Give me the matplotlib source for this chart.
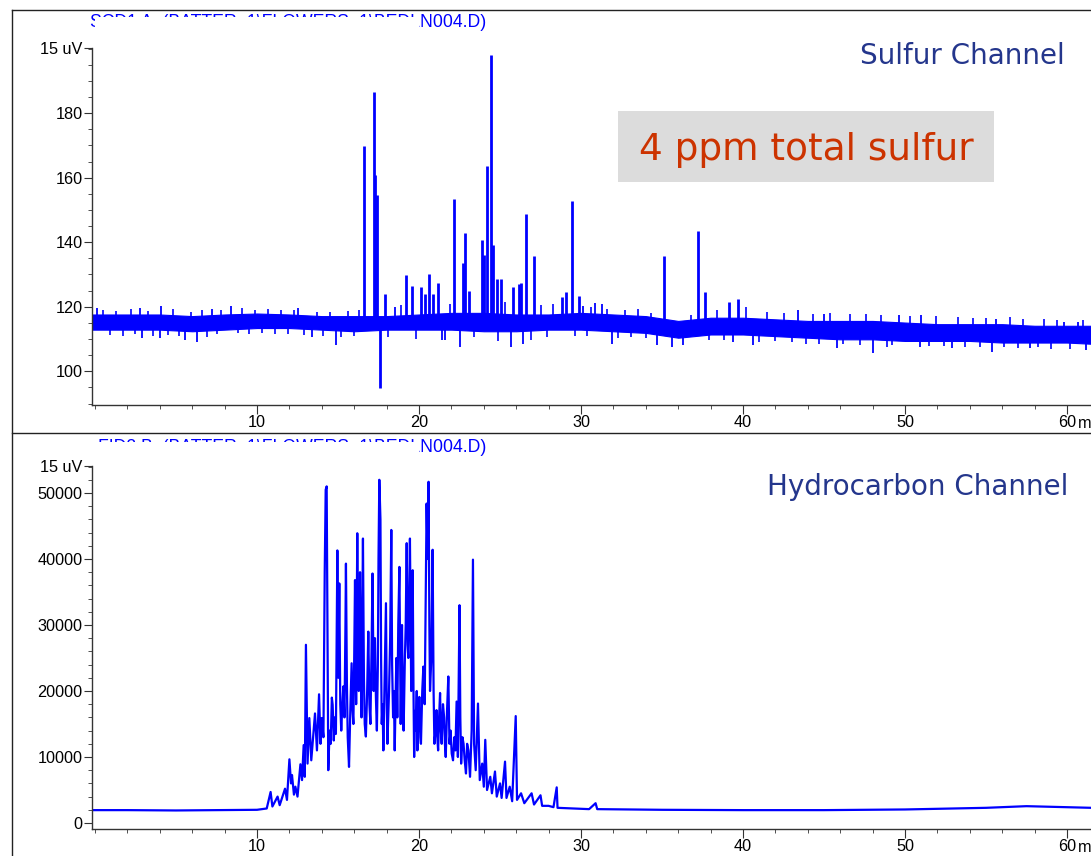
import numpy as np
import matplotlib.pyplot as plt
import matplotlib.transforms as mtransforms
from matplotlib.patches import Rectangle
from matplotlib.lines import Line2D
from matplotlib.ticker import MultipleLocator

plt.rcParams['font.family'] = ['Liberation Sans', 'DejaVu Sans']

# ---- sulfur channel ----
# solid core of the baseline noise, every 2 min
band_t = [-0.2, 2, 4, 6, 8, 10, 12, 14, 16, 18, 20, 22, 24, 26, 28, 30,
          32, 34, 36, 38, 40, 42, 44, 46, 48, 50, 52, 54, 56, 58, 60, 62]
band_hi = [117.6, 117.6, 117.6, 117.1, 117.6, 117.9, 117.6, 117.1, 117.1, 117.1,
           117.6, 118.1, 118.1, 117.6, 117.6, 118.1, 117.6, 117.1, 115.6, 116.6,
           116.6, 116.1, 115.6, 115.6, 115.6, 115.1, 114.6, 114.6, 114.6, 114.1,
           114.1, 114.1]
band_lo = [112.9, 112.9, 112.9, 112.4, 112.9, 113.4, 113.4, 112.9, 112.4, 112.9,
           112.9, 112.9, 112.4, 112.4, 112.9, 112.9, 112.4, 111.9, 110.4, 111.4,
           111.4, 110.9, 110.4, 109.9, 109.9, 109.4, 109.4, 109.4, 108.9, 108.9,
           108.9, 108.4]

# sulfur peaks (retention time, apex)
s_peak_t = [16.63, 17.20, 17.30, 17.39, 17.59, 17.90, 19.20, 19.55, 20.10, 20.38,
            20.60, 20.84, 21.15, 22.16, 22.74, 22.82, 23.10, 23.89, 23.99, 24.18,
            24.44, 24.55, 24.80, 25.04, 25.82, 26.17, 26.30, 26.58, 27.08, 28.80,
            29.07, 29.42, 29.88, 35.12, 37.22, 37.63, 39.14, 39.70]
s_peak_v = [169.8, 186.6, 160.8, 154.6, 94.8, 124.0, 129.8, 126.5, 126.0, 124.0,
            130.3, 124.0, 127.5, 153.5, 133.6, 143.0, 125.0, 140.6, 136.0, 163.6,
            197.9, 139.0, 128.7, 128.7, 126.0, 127.0, 127.5, 148.9, 135.7, 123.0,
            124.6, 152.8, 123.4, 135.7, 143.4, 124.6, 121.5, 122.5]

# larger noise excursions
s_noise_t = [0.1, 2.8, 2.9, 4.0, 4.1, 5.55, 6.3, 7.2, 8.4, 12.5, 13.4, 14.9,
             18.5, 21.4, 21.6, 22.5, 25.7, 26.4, 30.1, 30.86, 31.3, 31.9, 34.67,
             35.6, 36.3, 39.4, 40.6, 43.4, 45.0, 45.8, 48.05, 49.6, 50.9, 51.0,
             52.9, 55.35, 55.6, 57.7, 59.8, 60.7, 61.2]
s_noise_v = [119.7, 119.7, 110.2, 110.4, 120.2, 109.6, 109.0, 119.4, 120.2, 119.5,
             110.6, 108.0, 120.0, 109.6, 109.6, 107.5, 107.5, 108.6, 120.2, 121.2,
             120.7, 108.6, 108.2, 107.5, 108.2, 109.1, 108.2, 118.9, 117.9, 107.1,
             105.8, 117.4, 107.6, 117.4, 107.1, 106.1, 116.3, 107.3, 115.3, 115.3,
             106.6]

# smaller ripples on the band edges
s_ripple_t = [0.5, 0.9, 1.3, 1.7, 2.2, 2.5, 3.3, 3.6, 4.5, 4.8, 5.2, 5.9, 6.6, 6.9,
              7.5, 7.8, 8.8, 9.1, 9.5, 9.9, 10.3, 10.7, 11.1, 11.5, 11.9, 12.3, 12.9,
              13.7, 14.1, 14.5, 15.2, 15.6, 16.0, 16.3, 18.1, 18.9, 19.8, 21.9, 23.4,
              24.9, 25.3, 26.9, 27.5, 27.9, 28.3, 29.6, 30.4, 30.6, 31.6, 32.3, 32.7,
              33.1, 33.5, 34.0, 34.3, 36.8, 37.9, 38.4, 38.8, 40.2, 41.0, 41.5, 42.0,
              42.5, 43.0, 43.9, 44.3, 44.7, 45.4, 46.2, 46.6, 47.2, 47.6, 48.5, 48.9,
              49.2, 50.3, 51.5, 51.9, 52.4, 53.3, 53.7, 54.2, 54.6, 55.0, 56.1, 56.5,
              57.0, 57.3, 58.2, 58.6, 59.0, 59.4, 60.2, 61.0]
s_ripple_v = [119.0, 111.2, 118.6, 111.0, 119.3, 111.6, 118.8, 110.8, 111.3, 119.2,
              111.0, 118.4, 118.9, 110.5, 111.4, 119.0, 111.8, 119.6, 111.5, 119.1,
              112.0, 119.4, 111.7, 118.9, 111.4, 119.0, 111.2, 118.5, 110.9, 118.3,
              110.7, 118.7, 111.0, 118.9, 110.5, 120.5, 110.0, 121.0, 110.5, 109.5,
              121.5, 109.8, 120.5, 110.6, 121.0, 110.8, 111.0, 120.0, 119.3, 110.4,
              119.0, 110.6, 119.2, 110.3, 118.0, 117.5, 109.6, 119.0, 109.8, 119.8,
              109.0, 118.5, 109.3, 118.2, 109.0, 108.6, 117.8, 108.3, 118.2, 108.4,
              117.6, 108.0, 117.8, 117.4, 107.6, 108.2, 117.0, 107.8, 117.0, 107.9,
              116.8, 107.6, 116.5, 107.4, 116.4, 107.6, 116.7, 107.2, 116.2, 107.4,
              116.3, 106.9, 116.0, 107.0, 116.0]

# ---- hydrocarbon channel (trace through its maxima and minima) ----
hc_t = [-0.2, 2, 5, 8, 10, 10.6, 10.84, 10.95, 11.27, 11.4, 11.73, 11.85, 12.0, 12.1,
        12.16, 12.28, 12.37, 12.5, 12.68, 12.78, 12.88, 12.95, 13.02, 13.12, 13.23,
        13.35, 13.58, 13.7, 13.83, 13.92, 13.99,
        14.10, 14.18, 14.24, 14.30, 14.35, 14.40, 14.48, 14.55, 14.62, 14.67, 14.74,
        14.80, 14.87, 14.96, 15.02, 15.08, 15.14, 15.20, 15.27, 15.33, 15.40, 15.46,
        15.49, 15.55, 15.60, 15.68, 15.76, 15.84, 15.90, 15.95, 16.00, 16.05, 16.12,
        16.19, 16.24, 16.28, 16.36, 16.41, 16.45, 16.54, 16.60, 16.65, 16.72, 16.80,
        16.87, 16.94, 17.00, 17.07, 17.13, 17.20, 17.28, 17.34, 17.40, 17.46, 17.50,
        17.55, 17.62, 17.66, 17.70, 17.75, 17.80, 17.88, 17.96, 18.01, 18.05, 18.10,
        18.15, 18.22, 18.29, 18.34, 18.40, 18.45, 18.50, 18.55, 18.60, 18.66, 18.72,
        18.79, 18.87, 18.95, 19.00, 19.05, 19.12, 19.18, 19.24, 19.30, 19.34, 19.40,
        19.44, 19.52, 19.56, 19.61, 19.66, 19.70, 19.76, 19.80, 19.86, 19.90, 19.96,
        20.02, 20.08, 20.12, 20.20, 20.27, 20.35, 20.42, 20.47, 20.53, 20.59, 20.64,
        20.68, 20.76, 20.84, 20.90, 20.95, 21.02, 21.08, 21.13, 21.18, 21.24, 21.30,
        21.35, 21.40, 21.48, 21.55, 21.60, 21.65, 21.73, 21.81, 21.88, 21.95, 22.02,
        22.10, 22.18, 22.25, 22.32, 22.40, 22.50, 22.55, 22.60, 22.68, 22.75, 22.82,
        22.90, 22.97, 23.05, 23.15, 23.25, 23.33, 23.40,
        23.5, 23.64, 23.75, 23.9, 24.0, 24.09, 24.2, 24.4, 24.5, 24.69, 24.8, 25.0,
        25.1, 25.31, 25.4, 25.6, 25.75, 25.97, 26.05, 26.3, 26.5, 26.95, 27.1, 27.5,
        27.6, 28.0, 28.3, 28.5, 28.55, 29.5, 30.5, 30.9, 31.0, 35, 40, 45, 50, 55,
        57.5, 60, 61.5]
hc_v = [1950, 1950, 1900, 1950, 2000, 2200, 4700, 2500, 4000, 2700, 5200, 3500, 9650,
        6000, 7270, 4300, 5500, 4000, 8900, 6500, 11800, 7000, 27000, 9000, 15900,
        9500, 16600, 11000, 19500, 12000, 15900,
        13000, 38000, 50500, 51000, 30000, 8000, 14000, 12000, 19000, 17900, 12500,
        16000, 13500, 41300, 22000, 36300, 18000, 14000, 18000, 20700, 16000, 30000,
        39300, 21000, 13000, 8500, 17000, 24200, 17000, 15000, 25000, 36800, 18000,
        43900, 26000, 20000, 38000, 22000, 16000, 43100, 22000, 15000, 13100, 20000,
        29000, 18000, 15000, 26000, 37800, 20000, 28000, 19000, 14000, 24000, 40000,
        52000, 46000, 25000, 15000, 18000, 11000, 22000, 33300, 18000, 12000, 16000,
        20000, 28000, 44400, 24000, 16000, 20000, 11000, 18000, 25000, 16000, 30000,
        38800, 15000, 30000, 19000, 14000, 24000, 30000, 42400, 27000, 25000, 35000,
        43100, 20000, 32000, 38300, 20000, 10000, 17000, 14000, 20000, 11000, 16000,
        19100, 13000, 12000, 20000, 23700, 18000, 35000, 48400, 40000, 51700, 30000,
        20000, 25000, 41400, 20000, 12000, 14000, 17100, 13000, 11000, 16000, 19700,
        14000, 12000, 18000, 16000, 12000, 10000, 17000, 22200, 12000, 14000, 10500,
        9500, 13000, 11000, 18400, 10000, 33000, 16000, 9000, 13000, 12000, 9500,
        7500, 12000, 11000, 7000, 14000, 39900, 12000,
        8000, 18100, 6500, 9000, 5500, 12600, 5000, 7000, 4500, 7800, 4000, 6000,
        3800, 9300, 3800, 5500, 3300, 16200, 3500, 4500, 3000, 4500, 2800, 4200,
        2600, 2600, 2400, 5400, 2300, 2200, 2100, 3000, 2100, 2000, 1950, 1950, 2050, 2300,
        2550, 2400, 2300]

W, H = 1091, 856
BLUE = '#0000ff'


def fx(px):
    return px / W


def fy(py):
    return 1 - py / H


def style_axis(ax, top_val, majors, minor_step):
    ax.set_xlim(-0.185, 61.48)
    ax.spines['top'].set_visible(False)
    ax.spines['right'].set_visible(False)
    for s in ('left', 'bottom'):
        ax.spines[s].set_color('#333333')
        ax.spines[s].set_linewidth(1.0)
    ax.set_xticks([10, 20, 30, 40, 50, 60])
    ax.xaxis.set_minor_locator(MultipleLocator(2))
    ax.set_yticks(list(majors) + [top_val])
    ax.set_yticklabels([str(m) for m in majors] + ['15 uV'])
    ax.yaxis.set_minor_locator(MultipleLocator(minor_step))
    ax.tick_params(axis='x', which='major', length=6.5, pad=1, labelsize=11.7, color='#333333')
    ax.tick_params(axis='x', which='minor', length=3.1, color='#333333')
    ax.tick_params(axis='y', which='major', length=5.8, pad=1, labelsize=11.7, color='#333333')
    ax.tick_params(axis='y', which='minor', length=3.1, color='#333333')
    trans = mtransforms.blended_transform_factory(ax.transData, ax.transAxes)
    off = mtransforms.ScaledTranslation(7.5 / 72, -8.0 / 72, ax.figure.dpi_scale_trans)
    ax.text(60, 0, 'min', transform=trans + off, ha='left', va='top', fontsize=11.7)


fig = plt.figure(figsize=(W / 100, H / 100), dpi=100)

# ---- top panel: sulfur ----
ax1 = fig.add_axes([fx(92), fy(404.5), fx(1091) - fx(92), (404.5 - 48) / H])
ax1.set_ylim(89.7, 200.2)
style_axis(ax1, 200.2, [100, 120, 140, 160, 180], 5)

ax1.fill_between(band_t, band_lo, band_hi, color=BLUE, lw=0.8, edgecolor=BLUE)
center = (np.array(band_lo) + np.array(band_hi)) / 2
ax1.vlines(s_ripple_t, np.interp(s_ripple_t, band_t, center), s_ripple_v, color=BLUE, lw=1.2)
ax1.vlines(s_noise_t, np.interp(s_noise_t, band_t, center), s_noise_v, color=BLUE, lw=1.3)
ax1.vlines(s_peak_t, np.interp(s_peak_t, band_t, center), s_peak_v, color=BLUE, lw=2.0)

ax1.text(1.0 - (1091 - 1065) / (1091 - 92), fy(56), 'Sulfur Channel',
         transform=mtransforms.blended_transform_factory(ax1.transAxes, fig.transFigure),
         ha='right', va='center', fontsize=20, color='#24368c', family='DejaVu Sans')

# ---- bottom panel: hydrocarbon ----
ax2 = fig.add_axes([fx(92), fy(829), fx(1091) - fx(92), (829 - 466) / H])
ax2.set_ylim(-909, 54090)
style_axis(ax2, 54090, [0, 10000, 20000, 30000, 40000, 50000], 2000)
ax2.plot(hc_t, hc_v, color=BLUE, lw=1.6)

ax2.text(1.0 - (1091 - 1068) / (1091 - 92), fy(487), 'Hydrocarbon Channel',
         transform=mtransforms.blended_transform_factory(ax2.transAxes, fig.transFigure),
         ha='right', va='center', fontsize=20, color='#24368c', family='DejaVu Sans')

# ---- annotation box ----
fig.patches.append(Rectangle((fx(618), fy(182)), fx(994) - fx(618), (182 - 111) / H,
                             transform=fig.transFigure, facecolor='#dcdcdc',
                             edgecolor='none', zorder=2))
fig.text(fx(806), fy(150), '4 ppm total sulfur', ha='center', va='center',
         fontsize=27, color='#cc3300', family='DejaVu Sans', zorder=3)

# ---- file headers, lower part hidden ----
headers = ['SCD1 A, (BATTER~1\\FLOWERS~1\\BEDLN004.D)',
           'FID2 B, (BATTER~1\\FLOWERS~1\\BEDLN004.D)']
for base, label in zip((26.7, 451.5), headers):
    fig.text(fx(486), fy(base), label, ha='right', va='baseline',
             fontsize=12.7, color=BLUE, zorder=3)
    fig.patches.append(Rectangle((fx(95), fy(base + 4)), fx(419) - fx(95), 14 / H,
                                 transform=fig.transFigure, facecolor='white',
                                 edgecolor='none', zorder=5))

# ---- outer frames ----
frame = dict(color='#222222', lw=1.0, transform=fig.transFigure)
fig.add_artist(Line2D([fx(12), fx(12)], [fy(10), 0], **frame))
fig.add_artist(Line2D([fx(12), 1], [fy(10), fy(10)], **frame))
fig.add_artist(Line2D([fx(12), 1], [fy(433), fy(433)], **frame))

fig.savefig('out.png', dpi=100)
